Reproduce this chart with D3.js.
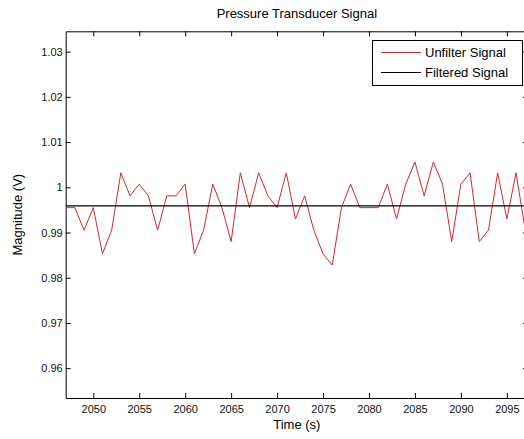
<!DOCTYPE html>
<html>
<head>
<meta charset="utf-8">
<script src="https://cdn.jsdelivr.net/npm/d3@7"></script>
<style>
  body { margin: 0; background: #fff; }
  svg { display: block; font-family: 'Liberation Sans', Arial, sans-serif; }
  .axis path, .axis line { stroke: #000; }
  .axis text { font-size: 11px; fill: #111; }
</style>
</head>
<body>
<div id="chart"></div>
<script>
"use strict"

// sample times (s)
var times = [2047, 2048, 2049, 2050, 2051, 2052, 2053, 2054, 2055, 2056,
  2057, 2058, 2059, 2060, 2061, 2062, 2063, 2064, 2065, 2066,
  2067, 2068, 2069, 2070, 2071, 2072, 2073, 2074, 2075, 2076,
  2077, 2078, 2079, 2080, 2081, 2082, 2083, 2084, 2085, 2086,
  2087, 2088, 2089, 2090, 2091, 2092, 2093, 2094, 2095, 2096, 2097];

// raw transducer reading (V)
var unfiltered = [0.9955, 0.9955, 0.9905, 0.9955, 0.9853, 0.9905, 1.0032, 0.9981, 1.0007, 0.9981,
  0.9905, 0.9981, 0.9981, 1.0007, 0.9853, 0.9905, 1.0007, 0.9955, 0.9880, 1.0032,
  0.9955, 1.0032, 0.9981, 0.9955, 1.0032, 0.9930, 0.9981, 0.9905, 0.9853, 0.9828,
  0.9955, 1.0007, 0.9955, 0.9955, 0.9955, 1.0007, 0.9930, 1.0007, 1.0056, 0.9981,
  1.0056, 1.0007, 0.9880, 1.0007, 1.0032, 0.9880, 0.9905, 1.0032, 0.9930, 1.0032, 0.9905];

// filtered level (V)
var filtered = 0.9959;

var xTicks = [2050, 2055, 2060, 2065, 2070, 2075, 2080, 2085, 2090, 2095];
var yTicks = [0.96, 0.97, 0.98, 0.99, 1, 1.01, 1.02, 1.03];

var W = 524, H = 439;
var mLeft = 65.7, mTop = 31.3, mRight = 528, mBottom = 398;

var svg = d3.select('#chart').append('svg')
  .attr('width', W)
  .attr('height', H);

var x = d3.scaleLinear().domain([2047, 2097.3]).range([mLeft, mRight]);
var y = d3.scaleLinear().domain([0.9534, 1.0345]).range([mBottom, mTop]);

svg.append('clipPath').attr('id', 'plotclip')
  .append('rect')
  .attr('x', mLeft).attr('y', mTop)
  .attr('width', mRight - mLeft).attr('height', mBottom - mTop);

// axes (ticks inward, box on)
svg.append('g').attr('class', 'axis')
  .attr('transform', 'translate(0,' + mBottom + ')')
  .call(d3.axisBottom(x).tickValues(xTicks).tickSizeInner(-5).tickSizeOuter(0).tickPadding(7)
    .tickFormat(d3.format('d')));

svg.append('g').attr('class', 'axis')
  .attr('transform', 'translate(0,' + mTop + ')')
  .call(d3.axisTop(x).tickValues(xTicks).tickSizeInner(-5).tickSizeOuter(0).tickFormat(''));

svg.append('g').attr('class', 'axis')
  .attr('transform', 'translate(' + mLeft + ',0)')
  .call(d3.axisLeft(y).tickValues(yTicks).tickSizeInner(-5).tickSizeOuter(0).tickPadding(3)
    .tickFormat(d => d === 1 ? '1' : d3.format('.2f')(d)));

svg.append('g').attr('class', 'axis')
  .attr('transform', 'translate(' + mRight + ',0)')
  .call(d3.axisRight(y).tickValues(yTicks).tickSizeInner(-5).tickSizeOuter(0).tickFormat(''));

var plot = svg.append('g').attr('clip-path', 'url(#plotclip)');

var line = d3.line()
  .x((d, i) => x(times[i]))
  .y(d => y(d));

plot.append('path')
  .datum(unfiltered)
  .attr('d', line)
  .attr('fill', 'none')
  .attr('stroke', '#cc2a30')
  .attr('stroke-width', 1);

plot.append('line')
  .attr('x1', x(times[0])).attr('x2', x(times[times.length - 1]) + 20)
  .attr('y1', y(filtered)).attr('y2', y(filtered))
  .attr('stroke', '#000')
  .attr('stroke-width', 1.3);

// legend
var lg = svg.append('g');
lg.append('rect')
  .attr('x', 372.5).attr('y', 40.5)
  .attr('width', 150).attr('height', 45)
  .attr('fill', '#fff').attr('stroke', '#000');

var entries = [['Unfilter Signal', '#cc2a30'], ['Filtered Signal', '#000']];
entries.forEach(function (e, i) {
  var yy = 52.5 + i * 20;
  lg.append('line')
    .attr('x1', 381).attr('x2', 421)
    .attr('y1', yy).attr('y2', yy)
    .attr('stroke', e[1]);
  lg.append('text')
    .attr('x', 425).attr('y', yy + 4.5)
    .attr('font-size', 13)
    .text(e[0]);
});

// titles
svg.append('text')
  .attr('x', (mLeft + mRight) / 2).attr('y', 18)
  .attr('text-anchor', 'middle')
  .attr('font-size', 13)
  .text('Pressure Transducer Signal');

svg.append('text')
  .attr('x', (mLeft + mRight) / 2).attr('y', 429)
  .attr('text-anchor', 'middle')
  .attr('font-size', 13)
  .text('Time (s)');

svg.append('text')
  .attr('transform', 'translate(22,' + (mTop + mBottom) / 2 + ') rotate(-90)')
  .attr('text-anchor', 'middle')
  .attr('font-size', 13)
  .text('Magnitude (V)');
</script>
</body>
</html>
